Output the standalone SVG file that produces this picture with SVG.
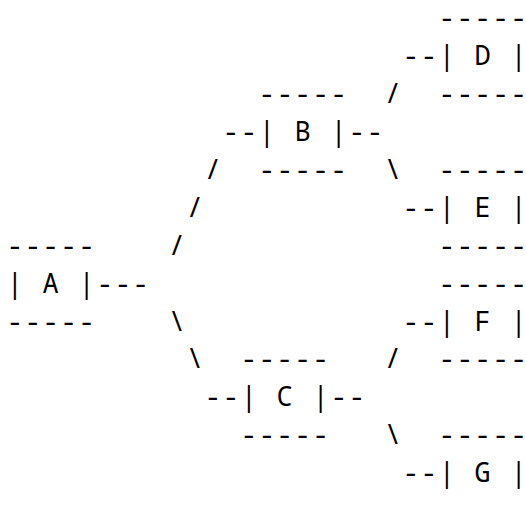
<svg xmlns="http://www.w3.org/2000/svg" width="526" height="511" viewBox="0 0 526 511">
<style>
text{font-family:"Noto Sans Mono","DejaVu Sans Mono","Liberation Mono",monospace;font-size:27px;letter-spacing:1.75px;fill:#000;white-space:pre}
</style>
<rect width="526" height="511" fill="#fff"/>
<g id="connectors">
<text x="96.7" y="292.6">---</text>
<text x="168.7" y="254.7">/</text>
<text x="186.7" y="216.8">/</text>
<text x="204.7" y="178.9">/</text>
<text x="222.7" y="141.0">--</text>
<text x="168.7" y="330.5">\</text>
<text x="186.7" y="368.4">\</text>
<text x="204.7" y="406.3">--</text>
<text x="348.7" y="141.0">--</text>
<text x="384.7" y="103.1">/</text>
<text x="402.7" y="65.2">--</text>
<text x="384.7" y="178.9">\</text>
<text x="402.7" y="216.8">--</text>
<text x="330.7" y="406.3">--</text>
<text x="384.7" y="368.4">/</text>
<text x="402.7" y="330.5">--</text>
<text x="384.7" y="444.2">\</text>
<text x="402.7" y="482.1">--</text>
</g>
<g id="node-A">
<text x="6.7" y="254.7">-----</text>
<text x="6.7" y="292.6">| A |</text>
<text x="6.7" y="330.5">-----</text>
</g>
<g id="node-B">
<text x="258.7" y="103.1">-----</text>
<text x="258.7" y="141.0">| B |</text>
<text x="258.7" y="178.9">-----</text>
</g>
<g id="node-C">
<text x="240.7" y="368.4">-----</text>
<text x="240.7" y="406.3">| C |</text>
<text x="240.7" y="444.2">-----</text>
</g>
<g id="node-D">
<text x="438.7" y="27.3">-----</text>
<text x="438.7" y="65.2">| D |</text>
<text x="438.7" y="103.1">-----</text>
</g>
<g id="node-E">
<text x="438.7" y="178.9">-----</text>
<text x="438.7" y="216.8">| E |</text>
<text x="438.7" y="254.7">-----</text>
</g>
<g id="node-F">
<text x="438.7" y="292.6">-----</text>
<text x="438.7" y="330.5">| F |</text>
<text x="438.7" y="368.4">-----</text>
</g>
<g id="node-G">
<text x="438.7" y="444.2">-----</text>
<text x="438.7" y="482.1">| G |</text>
<text x="438.7" y="520.0">-----</text>
</g>
</svg>
